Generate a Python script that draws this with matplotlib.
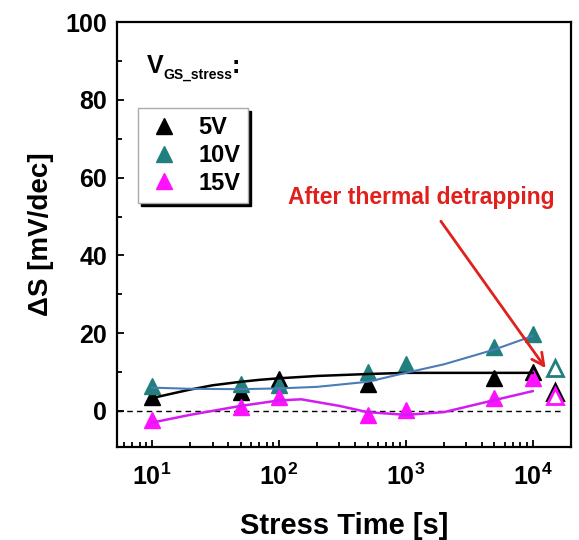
import numpy as np
import matplotlib.pyplot as plt
from matplotlib.ticker import FixedLocator, FixedFormatter, LogLocator, NullFormatter, MultipleLocator

plt.rcParams['font.family'] = ['Liberation Sans', 'DejaVu Sans']
plt.rcParams['font.weight'] = 'bold'
plt.rcParams['mathtext.fontset'] = 'custom'
plt.rcParams['mathtext.rm'] = 'Liberation Sans:bold'
plt.rcParams['mathtext.bf'] = 'Liberation Sans:bold'
plt.rcParams['mathtext.it'] = 'Liberation Sans:bold'

# measured points
time_5v = [10, 50, 100, 500, 5000, 10000]
ds_5v = [3.5, 4.9, 8.3, 7.0, 8.6, 10.0]
time_10v = [10, 50, 100, 500, 1000, 5000, 10000]
ds_10v = [6.3, 6.9, 6.8, 10.0, 12.0, 16.5, 19.8]
time_15v = [10, 50, 100, 500, 1000, 5000, 10000]
ds_15v = [-2.3, 1.0, 3.5, -1.0, 0.3, 3.3, 8.6]

# after thermal detrapping (open symbols)
detrap_time = 15000
detrap_5v = 5.0
detrap_10v = 11.0
detrap_15v = 3.8

# guide-to-the-eye curves
fit_5v_t = [10, 15, 20, 30, 50, 70, 100, 200, 500, 1000, 10000]
fit_5v = [3.3, 4.6, 5.5, 6.6, 7.5, 8.0, 8.4, 9.0, 9.5, 9.8, 9.8]
fit_10v_t = [10, 20, 50, 100, 200, 500, 1000, 2000, 5000, 10000]
fit_10v = [6.0, 5.7, 5.6, 5.8, 6.2, 7.5, 9.8, 12.0, 15.8, 19.3]
fit_15v_t = [10, 20, 50, 100, 150, 300, 500, 1000, 2000, 5000, 10000]
fit_15v = [-3.0, -1.0, 1.3, 2.7, 3.0, 1.3, -0.3, -1.0, -0.3, 2.8, 5.1]

x_ticks = [10, 100, 1000, 10000]
x_labels = [r'$\mathbf{10^{1}}$', r'$\mathbf{10^{2}}$', r'$\mathbf{10^{3}}$', r'$\mathbf{10^{4}}$']

c_black = '#000000'
c_teal = '#217f7d'
c_mag = '#ff10ff'

fig = plt.figure(figsize=(5.79, 5.40), dpi=100)
ax = fig.add_axes([0.202, 0.172, 0.784, 0.787])

ms = 11
ax.plot(time_5v, ds_5v, '^', ms=ms, color=c_black, ls='none', label='5V', zorder=2)
ax.plot(time_10v, ds_10v, '^', ms=ms, color=c_teal, ls='none', label='10V', zorder=2)
ax.plot(time_15v, ds_15v, '^', ms=ms, color=c_mag, ls='none', label='15V', zorder=2)

ax.plot([detrap_time], [detrap_10v], '^', ms=ms, mfc='white', mec=c_teal, mew=2, zorder=2)
ax.plot([detrap_time], [detrap_5v], '^', ms=ms, mfc='white', mec=c_black, mew=2, zorder=2)
ax.plot([detrap_time], [detrap_15v], '^', ms=ms, mfc='white', mec=c_mag, mew=2, zorder=2)

ax.plot(fit_5v_t, fit_5v, '-', color='black', lw=1.8, zorder=3)
ax.plot(fit_10v_t, fit_10v, '-', color='#4a7cb8', lw=1.5, zorder=3)
ax.plot(fit_15v_t, fit_15v, '-', color='#d21cf0', lw=1.8, zorder=3)

ax.axhline(0, xmin=0, xmax=0.985, color='black', lw=1, ls=(0, (4, 3)), zorder=1)

ax.set_xscale('log')
ax.set_xlim(5.3, 20000)
ax.set_ylim(-9.3, 100)

ax.xaxis.set_major_locator(FixedLocator(x_ticks))
ax.xaxis.set_major_formatter(FixedFormatter(x_labels))
ax.xaxis.set_minor_locator(LogLocator(base=10, subs=np.arange(2, 10)))
ax.xaxis.set_minor_formatter(NullFormatter())
ax.yaxis.set_major_locator(MultipleLocator(20))
ax.yaxis.set_minor_locator(MultipleLocator(10))

ax.tick_params(which='both', direction='in', top=False, right=False, width=1.3)
ax.tick_params(which='major', length=5, labelsize=18)
ax.tick_params(axis='y', which='major', pad=7)
ax.tick_params(axis='x', which='major', pad=12)
ax.tick_params(which='minor', length=3.5)
for sp in ax.spines.values():
    sp.set_linewidth(1.6)

ax.set_xlabel('Stress Time [s]', fontsize=21, fontweight='bold', labelpad=16)
ax.set_ylabel(r'ΔS [mV/dec]', fontsize=20, fontweight='bold', labelpad=8)

# V_GS_stress header above the legend
ax.text(0.066, 0.88, 'V', transform=ax.transAxes, fontsize=18,
        fontweight='bold', va='baseline', ha='left')
ax.text(0.102, 0.866, 'GS_stress', transform=ax.transAxes, fontsize=10,
        fontweight='bold', va='baseline', ha='left')
ax.text(0.252, 0.88, ':', transform=ax.transAxes, fontsize=18,
        fontweight='bold', va='baseline', ha='left')

leg = ax.legend(loc='upper left', bbox_to_anchor=(0.046, 0.798), borderaxespad=0,
                fontsize=17, markerscale=1.1, frameon=True, fancybox=False,
                edgecolor='#aaaaaa', shadow={'color': 'black', 'alpha': 1},
                handletextpad=0.7, labelspacing=0.2, handlelength=1.5, borderpad=0.35)
leg.get_frame().set_linewidth(1)

ax.annotate('', xy=(12650, 11), xytext=(1890, 48.8),
            arrowprops=dict(arrowstyle='->', color='#e0201c', lw=2,
                            mutation_scale=22, shrinkA=0, shrinkB=0))
ax.text(1337, 55, 'After thermal detrapping', color='#e0201c', fontsize=16.5,
        fontweight='bold', ha='center', va='center')

fig.savefig('out.png', dpi=100)
